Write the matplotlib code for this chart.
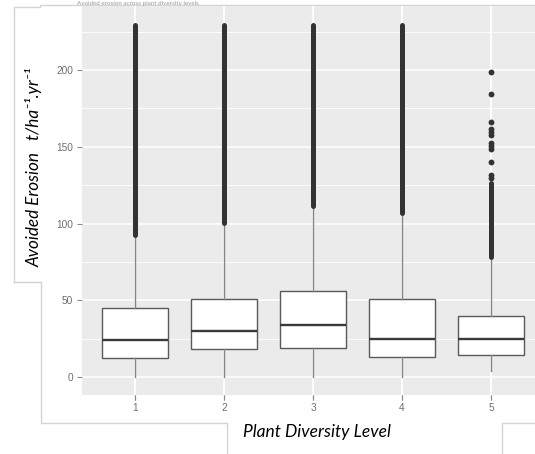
import numpy as np
import matplotlib.pyplot as plt
from matplotlib.lines import Line2D

# Diversity levels and box statistics
levels = [1, 2, 3, 4, 5]
q1 = [12.6, 18.2, 18.9, 13.0, 14.3]
medians = [24.0, 29.8, 33.9, 25.0, 24.5]
q3 = [45.0, 50.8, 56.2, 50.8, 40.0]
whisker_lo = [0.0, 0.0, 0.0, 0.0, 3.9]
whisker_hi = [92.5, 100.3, 111.4, 107.0, 78.4]

# outliers packed so densely they read as a solid column (start, end)
dense_lo = [92.5, 100.3, 111.4, 107.0, 78.4]
dense_hi = [229.5, 229.5, 229.0, 229.5, 126.2]

# separate outliers of level 5
level5_outliers = [129.6, 131.6, 140.3, 148.3, 150.5, 152.6, 157.6, 159.8, 161.5, 166.3, 184.4, 198.5]

W, H = 535, 454
fig = plt.figure(figsize=(W / 100, H / 100), dpi=100)
fig.patch.set_facecolor('white')


def px(x, y):
    return x / W, 1 - y / H


# axes placed so that the panel runs past the right edge like the screenshot
left, top = px(81.6, 6.3)
right, bottom = px(544.4, 394.7)
ax = fig.add_axes([left, bottom, right - left, top - bottom])
ax.set_facecolor('#EBEBEB')
for s in ax.spines.values():
    s.set_visible(False)

ax.set_xlim(0.4, 5.6)
ax.set_ylim(-11.5, 241.5)

ax.set_yticks([0, 50, 100, 150, 200])
ax.set_yticks([25, 75, 125, 175, 225], minor=True)
ax.set_xticks(levels)
ax.set_xticklabels([str(l) for l in levels])
ax.grid(which='major', color='white', linewidth=1.1)
ax.grid(which='minor', axis='y', color='white', linewidth=0.6)
ax.set_axisbelow(True)
ax.tick_params(which='major', length=3.5, width=0.8, color='#8a8a8a',
               labelcolor='#6e6e6e', labelsize=7.3, pad=2.5)
ax.tick_params(which='minor', length=0)
for lab in ax.get_xticklabels() + ax.get_yticklabels():
    lab.set_family('Liberation Sans')

stats = []
for i in range(len(levels)):
    stats.append({'med': medians[i], 'q1': q1[i], 'q3': q3[i],
                  'whislo': whisker_lo[i], 'whishi': whisker_hi[i], 'fliers': []})

ax.bxp(stats, positions=levels, widths=0.75, showcaps=False, patch_artist=True,
       boxprops=dict(facecolor='white', edgecolor='#5a5a5a', linewidth=1.0),
       medianprops=dict(color='#3a3a3a', linewidth=1.7),
       whiskerprops=dict(color='#858585', linewidth=1.0))

ax.vlines(levels, dense_lo, dense_hi, color='#333333', linewidth=3.6,
          capstyle='round', zorder=3)
ax.plot([5] * len(level5_outliers), level5_outliers, 'o', color='#333333',
        markersize=4.2, markeredgewidth=0, zorder=3)

# outlines of the pasted screenshot pieces
outline = dict(color='#d4d4d4', linewidth=1.0, transform=fig.transFigure)
paths = [
    [(14, 282), (14, 7), (40, 7), (40, 5), (536, 5)],
    [(14, 282), (41, 282), (41, 423), (227, 423), (227, 455)],
    [(502, 455), (502, 423), (536, 423)],
]
for p in paths:
    xs, ys = zip(*[px(x, y) for x, y in p])
    fig.add_artist(Line2D(xs, ys, zorder=-1, **outline))

# small caption squeezed above the plot
fig.text(*px(77, 4.5), 'Avoided erosion across plant diversity levels', color='#9a9a9a',
         fontsize=4.5, family='Lato', va='baseline', ha='left')

fig.text(*px(34, 167), 'Avoided Erosion   t/ha⁻¹.yr⁻¹',
         rotation=90, ha='center', va='center', fontsize=12.3,
         family=['Lato', 'DejaVu Sans'], style='italic', color='black')
fig.text(*px(317, 432), 'Plant Diversity Level', ha='center', va='center',
         fontsize=12.5, family='Lato', style='italic', color='black')

fig.savefig('out.png', dpi=100, facecolor='white')
